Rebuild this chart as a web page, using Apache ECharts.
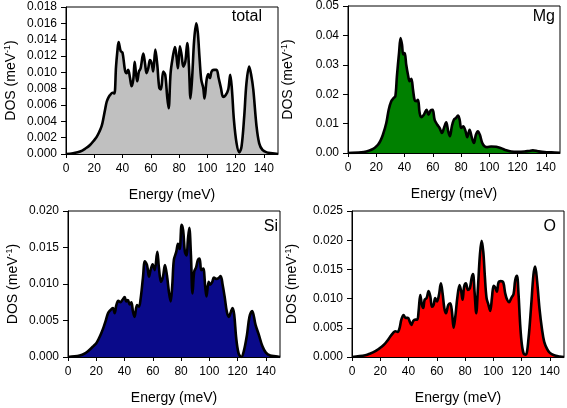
<!DOCTYPE html>
<html><head><meta charset="utf-8">
<script src="https://cdn.jsdelivr.net/npm/echarts@6/dist/echarts.min.js"></script>
<style>html,body{margin:0;padding:0;background:#fff}#c{width:567px;height:408px}</style>
</head><body><div id="c"></div>
<script>
// [energy (meV), DOS (meV^-1)]
const totalDOS = [[0,0],[5,0.0001],[10,0.0003],[14,0.0007],[17,0.0011],[20,0.0017],[21.7,0.0021],[23.5,0.0027],[25.2,0.0034],[26.5,0.0044],[27.6,0.0054],[28.8,0.0064],[30,0.0069],[31.1,0.0072],[33,0.0075],[34.2,0.0074],[35.4,0.0107],[36.3,0.0125],[37.2,0.0137],[38.7,0.0126],[40,0.0124],[41.7,0.0103],[42.9,0.0099],[44,0.0103],[45.3,0.0093],[46.4,0.0083],[47.6,0.0091],[48.6,0.0113],[49.5,0.0099],[50.4,0.0089],[51.6,0.0101],[52.8,0.0105],[54.7,0.0123],[55.9,0.0111],[57,0.0099],[58.2,0.0105],[59.4,0.0115],[60.6,0.0111],[61.7,0.0101],[63.2,0.0128],[64.6,0.0109],[66,0.0081],[67.2,0.0079],[68.8,0.0101],[70.2,0.0097],[71.6,0.0070],[72.6,0.0056],[74,0.0099],[75.4,0.0117],[77.1,0.0131],[78.2,0.0119],[79.2,0.0105],[80.6,0.0132],[81.8,0.0121],[83,0.0107],[84.4,0.0113],[85.8,0.0136],[87,0.0107],[88.1,0.0068],[89.3,0.0095],[90.7,0.0140],[92.2,0.0160],[93.3,0.0148],[94.5,0.0117],[95.7,0.0091],[97.1,0.0081],[98,0.0068],[99.5,0.0091],[100.6,0.0098],[101.8,0.0093],[103,0.0101],[104.6,0.0103],[106.5,0.0103],[108,0.0093],[109.6,0.0081],[111.2,0.0070],[112.9,0.0072],[114.8,0.0079],[116.2,0.0097],[117.4,0.0079],[118.8,0.0042],[120.7,0.0013],[122.6,0.0002],[124.2,0.0009],[126.1,0.0046],[127.7,0.0087],[129.6,0.0107],[131,0.0097],[132.5,0.0079],[134.8,0.0034],[136.7,0.0013],[139,0.0005],[142,0.0002],[146,0.0001],[150,0]];
const mgDOS = [[0,0],[9.4,0.0002],[13,0.0005],[16.5,0.0011],[19,0.0018],[21.2,0.0028],[23,0.0042],[24.7,0.0062],[27.1,0.0102],[28.8,0.0147],[30.6,0.0176],[32.3,0.0187],[33.5,0.0193],[34.6,0.0261],[36.1,0.0340],[37.2,0.0391],[38.2,0.0369],[39.1,0.0335],[40.1,0.0340],[41.2,0.0300],[42.4,0.0267],[43.6,0.0244],[44.8,0.0252],[46,0.0215],[47.1,0.0181],[48.3,0.0176],[49.5,0.0181],[50.7,0.0136],[51.9,0.0122],[53.7,0.0130],[55.6,0.0147],[57,0.0130],[58.5,0.0145],[59.9,0.0147],[61.3,0.0113],[63.2,0.0096],[64.8,0.0085],[66.5,0.0068],[67.9,0.0085],[69.5,0.0104],[70.9,0.0074],[72.1,0.0057],[73.5,0.0091],[74.9,0.0113],[76.4,0.0119],[77.8,0.0127],[79,0.0113],[80.1,0.0085],[81.5,0.0091],[83,0.0077],[84.4,0.0054],[86,0.0079],[87.7,0.0051],[89.1,0.0034],[90.5,0.0062],[91.9,0.0074],[93.3,0.0062],[95,0.0034],[96.6,0.0023],[98.5,0.0020],[101.3,0.0022],[104.9,0.0021],[108.4,0.0016],[112,0.0009],[115.5,0.0005],[120.2,0.0004],[124.9,0.0005],[128,0.0007],[130.8,0.0009],[134.3,0.0006],[139,0.0003],[144,0.0002],[150,0.0001]];
const siDOS = [[0,0],[8.2,0.0002],[12,0.0005],[15.3,0.0010],[18,0.0015],[20,0.0019],[22,0.0026],[23.6,0.0033],[25.2,0.0041],[26.6,0.0049],[28.3,0.0060],[29.9,0.0064],[31.8,0.0067],[33,0.0060],[34.2,0.0071],[35.6,0.0077],[37.2,0.0075],[38.4,0.0078],[40.1,0.0082],[41.2,0.0076],[42.4,0.0078],[43.6,0.0072],[44.8,0.0075],[46,0.0062],[47.1,0.0055],[48.8,0.0071],[50.2,0.0069],[51.4,0.0080],[53,0.0108],[54.4,0.0131],[55.9,0.0126],[57.3,0.0110],[58.4,0.0119],[59.9,0.0127],[61.3,0.0119],[63.2,0.0144],[64.3,0.0123],[65.8,0.0103],[67.2,0.0110],[68.6,0.0126],[70,0.0112],[71.4,0.0089],[72.6,0.0076],[73.8,0.0099],[74.9,0.0133],[76.6,0.0144],[77.8,0.0155],[79,0.0148],[80.4,0.0181],[81.5,0.0173],[82.7,0.0144],[83.9,0.0139],[84.8,0.0160],[85.8,0.0177],[87,0.0139],[88.1,0.0087],[89.3,0.0117],[90.7,0.0123],[91.9,0.0133],[93.1,0.0135],[94.3,0.0119],[95.7,0.0121],[97.1,0.0096],[98,0.0083],[99.5,0.0103],[100.6,0.0099],[102.1,0.0103],[103.2,0.0109],[104.9,0.0107],[106.5,0.0108],[108,0.0111],[109.4,0.0099],[110.8,0.0083],[112.4,0.0062],[113.8,0.0055],[115.3,0.0062],[116.4,0.0067],[117.6,0.0058],[119,0.0026],[120.7,0.0005],[122.6,0],[124.4,0.0008],[126.6,0.0030],[128.4,0.0055],[130.3,0.0063],[132.7,0.0044],[135.1,0.0030],[137.5,0.0015],[140,0.0006],[143,0.0002],[147,0.0001],[150,0]];
const oDOS = [[0,0],[9.4,0.0003],[13,0.0006],[16.5,0.0010],[19,0.0014],[21.2,0.0018],[23,0.0022],[24.7,0.0027],[27.1,0.0035],[29,0.0041],[30.6,0.0044],[32.3,0.0043],[33.7,0.0050],[34.9,0.0064],[36.5,0.0072],[37.9,0.0067],[39.6,0.0067],[40.8,0.0061],[42,0.0055],[43.4,0.0062],[44.8,0.0064],[46.2,0.0064],[47.1,0.0078],[48.3,0.0106],[49.5,0.0089],[50.4,0.0084],[51.4,0.0098],[52.8,0.0101],[54.2,0.0113],[55.4,0.0104],[56.6,0.0086],[57.7,0.0089],[58.9,0.0101],[60.1,0.0095],[61.5,0.0106],[62.9,0.0126],[64.1,0.0109],[65.3,0.0084],[66.5,0.0075],[68.1,0.0089],[69.5,0.0092],[70.7,0.0078],[71.9,0.0050],[73.1,0.0069],[74.5,0.0101],[76.1,0.0123],[77.3,0.0112],[78.2,0.0098],[79.4,0.0121],[80.6,0.0126],[82,0.0115],[83.4,0.0118],[84.6,0.0135],[85.6,0.0142],[86.7,0.0112],[87.9,0.0075],[89.1,0.0118],[90.5,0.0175],[91.7,0.0199],[92.9,0.0180],[94,0.0138],[95.2,0.0101],[96.6,0.0089],[97.8,0.0079],[99,0.0101],[100.2,0.0122],[101.3,0.0119],[102.5,0.0112],[103.7,0.0128],[105.3,0.0130],[107,0.0128],[108.4,0.0109],[109.8,0.0098],[111.2,0.0094],[112.7,0.0101],[114.3,0.0108],[115.5,0.0132],[116.7,0.0139],[117.8,0.0109],[119,0.0055],[120.2,0.0021],[121.6,0.0005],[123,0.0004],[124.9,0.0032],[126.8,0.0089],[128.4,0.0141],[129.6,0.0155],[131,0.0129],[132.7,0.0082],[134.4,0.0048],[136,0.0026],[138,0.0014],[140,0.0007],[143,0.0003],[147,0.0001],[150,0]];
const xTicks = [0,20,40,60,80,100,120,140];
const panelNames = ['total','Mg','Si','O'];
const yMax = [0.018, 0.05, 0.020, 0.025];
const yStep = [0.002, 0.01, 0.005, 0.005];
const yDecimals = [3, 2, 3, 3];
const fills = ['#c0c0c0', '#008000', '#0a0a8a', '#ff0000'];

const FONT = 'Liberation Sans, Arial, sans-serif';
const grids = [
  {left: 66, top: 7, width: 212, height: 147},
  {left: 348, top: 6, width: 212, height: 147},
  {left: 68, top: 211, width: 212, height: 146},
  {left: 352, top: 211, width: 212, height: 146}
];
const datasets = [totalDOS, mgDOS, siDOS, oDOS];
const labelPos = [
  {x: 262, y: 17},
  {x: 555, y: 17},
  {x: 278, y: 227},
  {x: 556, y: 227}
];

const option = {
  animation: false,
  backgroundColor: '#fff',
  grid: grids.map(g => Object.assign({show: true, borderColor: '#000', borderWidth: 1, containLabel: false}, g)),
  xAxis: grids.map((g, i) => ({
    gridIndex: i, type: 'value', min: 0, max: 150, interval: 10,
    axisLine: {show: true, lineStyle: {color: '#000', width: 1}},
    axisTick: {show: true, inside: false, length: 4, customValues: xTicks, lineStyle: {color: '#000'}},
    axisLabel: {show: true, customValues: xTicks, margin: 9, fontSize: 12, color: '#000', fontFamily: FONT},
    splitLine: {show: false},
    name: 'Energy (meV)', nameLocation: 'middle', nameGap: 34,
    nameTextStyle: {fontSize: 14, color: '#000', fontFamily: FONT}
  })),
  yAxis: grids.map((g, i) => ({
    gridIndex: i, type: 'value', min: 0, max: yMax[i], interval: yStep[i],
    axisLine: {show: true, lineStyle: {color: '#000', width: 1}},
    axisTick: {show: true, inside: false, length: 5, lineStyle: {color: '#000'}},
    axisLabel: {margin: 9, fontSize: 12, color: '#000', fontFamily: FONT,
      formatter: v => v.toFixed(yDecimals[i])},
    splitLine: {show: false},
    name: '{m|DOS (meV}{s|-1}{m|)}', nameLocation: 'middle', nameRotate: 90,
    nameGap: i % 2 === 0 ? 47 : 52,
    nameTextStyle: {color: '#000', fontFamily: FONT,
      rich: {m: {fontSize: 14, fontFamily: FONT, color: '#000', lineHeight: 16},
             s: {fontSize: 9, fontFamily: FONT, color: '#000', verticalAlign: 'top', lineHeight: 16}}}
  })),
  series: datasets.map((d, i) => ({
    type: 'line', xAxisIndex: i, yAxisIndex: i, data: d,
    showSymbol: false, smooth: 0.35, clip: true,
    lineStyle: {color: '#000', width: 2.6},
    areaStyle: {color: fills[i], opacity: 1}
  })),
  graphic: panelNames.map((n, i) => ({
    type: 'text', x: labelPos[i].x, y: labelPos[i].y,
    style: {text: n, fontSize: 16, fill: '#000', fontFamily: FONT, textAlign: 'right', textVerticalAlign: 'middle'}
  }))
};
const chart = echarts.init(document.getElementById('c'), null, {renderer: 'canvas'});
chart.setOption(option);
</script></body></html>
